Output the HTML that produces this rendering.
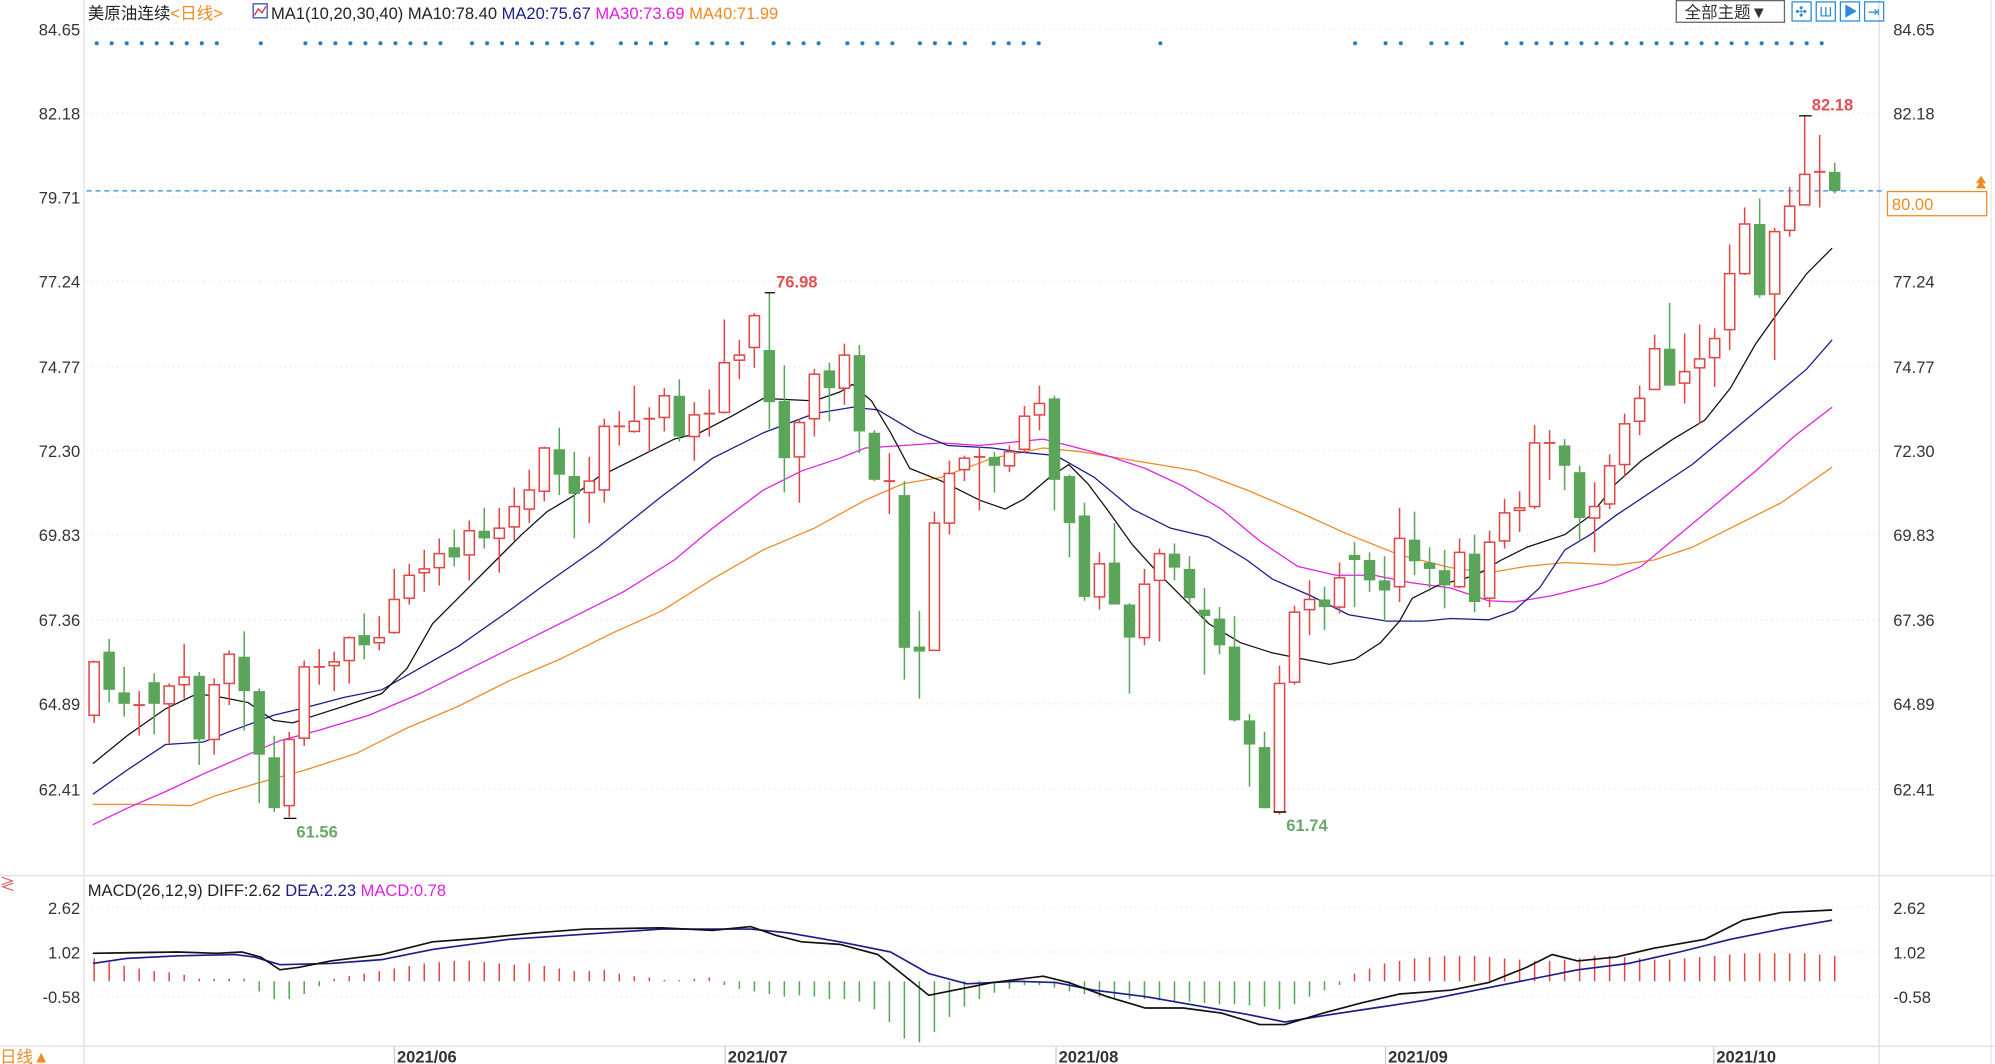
<!DOCTYPE html>
<html><head><meta charset="utf-8"><style>
html,body{margin:0;padding:0;background:#fff;overflow:hidden}
svg{display:block}
text{font-family:"Liberation Sans","Noto Sans CJK SC",sans-serif}
</style></head><body>
<svg id="s" width="1995" height="1064" viewBox="0 0 1568 836" preserveAspectRatio="none" xmlns="http://www.w3.org/2000/svg">
<rect width="1568" height="836" fill="#fff"/>
<g id="grid" stroke="#e4e4e4" stroke-dasharray="1,3" stroke-width="1"></g>
<line x1="66" y1="0" x2="66" y2="836" stroke="#e0e0e0"/>
<line x1="1477" y1="0" x2="1477" y2="836" stroke="#e0e0e0"/>
<line x1="1565" y1="0" x2="1565" y2="836" stroke="#e8e8e8"/>
<line x1="0" y1="688" x2="1568" y2="688" stroke="#e0e0e0"/>
<line x1="0" y1="822" x2="1568" y2="822" stroke="#e0e0e0"/>
<g id="dots" fill="#1f7fc4"></g>
<line x1="68" y1="150" x2="1480" y2="150" stroke="#2b8ad8" stroke-dasharray="4,3" stroke-width="1"/>
<g id="ma" fill="none" stroke-width="1"></g>
<g id="candles"></g>
<g id="macd"></g>
<g id="txt" font-size="13" fill="#333"></g>
<text x="69" y="15" font-size="13" fill="#222">美原油连续<tspan fill="#f08a24">&lt;日线&gt;</tspan></text>
<rect x="199" y="3" width="11" height="11" fill="none" stroke="#3050b0"/>
<polyline points="200,12 203,7 206,10 209,5" fill="none" stroke="#d03030"/>
<text x="213" y="15" font-size="13" fill="#222">MA1(10,20,30,40) MA10:78.40 <tspan fill="#1c1c8c">MA20:75.67</tspan> <tspan fill="#e020e0">MA30:73.69</tspan> <tspan fill="#f08a24">MA40:71.99</tspan></text>
<rect x="1317.5" y="0.5" width="85" height="17" fill="#fff" stroke="#666"/>
<text x="1324" y="14" font-size="13" fill="#333">全部主题▼</text>
<g fill="none" stroke="#2b8ad8">
<rect x="1408.5" y="1.5" width="15" height="15"/><rect x="1427.5" y="1.5" width="15" height="15"/><rect x="1446.5" y="1.5" width="15" height="15"/><rect x="1465.5" y="1.5" width="15" height="15"/>
</g>
<g fill="#2b8ad8" font-size="11"><text x="1411" y="13">✣</text><text x="1430" y="13">Ш</text><text x="1449" y="13">▶</text><text x="1468" y="13">⇥</text></g>
<rect x="1483.5" y="150.5" width="78" height="19" fill="#fff" stroke="#f08a24"/>
<text x="1487" y="165" font-size="13" fill="#f08a24">80.00</text>
<path d="M1553 148 L1557 142 L1561 148 Z M1553 144 L1557 138 L1561 144" fill="#f08a24"/>
<text x="1424" y="87" font-size="13" font-weight="bold" fill="#e05050">82.18</text>
<text x="610" y="226" font-size="13" font-weight="bold" fill="#e05050">76.98</text>
<text x="233" y="658" font-size="13" font-weight="bold" fill="#6aa86a">61.56</text>
<text x="1011" y="653" font-size="13" font-weight="bold" fill="#6aa86a">61.74</text>
<g stroke="#000"><line x1="1414" y1="91" x2="1424" y2="91"/><line x1="601" y1="230" x2="609" y2="230"/><line x1="223" y1="643" x2="233" y2="643"/><line x1="1001" y1="638" x2="1011" y2="638"/></g>
<text x="69" y="704" font-size="13" fill="#222">MACD(26,12,9) DIFF:2.62 <tspan fill="#1c1c8c">DEA:2.23</tspan> <tspan fill="#e020e0">MACD:0.78</tspan></text>
<text x="0" y="699" font-size="12" fill="#e05050">≷</text>
<text x="0" y="835" font-size="13" fill="#f08a24">日线▲</text>
</svg>
<script>
const NS="http://www.w3.org/2000/svg";
function el(p,t,a,txt){const e=document.createElementNS(NS,t);for(const k in a)e.setAttribute(k,a[k]);if(txt!==undefined)e.textContent=txt;document.getElementById(p).appendChild(e);return e;}
const lv=[["84.65",23],["82.18",89],["79.71",155],["77.24",221],["74.77",288],["72.30",354],["69.83",420],["67.36",487],["64.89",553],["62.41",620]];
lv.forEach(([t,y])=>{el("txt","text",{x:63,y:y+5,"text-anchor":"end"},t);el("txt","text",{x:1488,y:y+5},t);el("grid","line",{x1:68,y1:y,x2:1477,y2:y});});
[["2.62",713],["1.02",748],["-0.58",783]].forEach(([t,y])=>{el("txt","text",{x:63,y:y+5,"text-anchor":"end"},t);el("txt","text",{x:1488,y:y+5},t);el("grid","line",{x1:68,y1:y,x2:1477,y2:y});});
[["2021/06",338],["2021/07",598],["2021/08",858],["2021/09",1117],["2021/10",1375]].forEach(([t,x])=>{el("txt","text",{x:x-26,y:835,"font-weight":"bold"},t);el("grid","line",{x1:x-28,y1:822,x2:x-28,y2:836,stroke:"#ccc","stroke-dasharray":"none"});});
let dx=[];for(let i=0;i<9;i++)dx.push(76+i*11.8);dx.push(205);for(let i=0;i<10;i++)dx.push(240+i*11.8);for(let i=0;i<9;i++)dx.push(371+i*11.8);
[488,548,608,666,723,781].forEach(s=>{for(let i=0;i<4;i++)dx.push(s+i*11.8)});
dx.push(912,1065,1089,1101,1125,1137,1149);for(let i=0;i<22;i++)dx.push(1184+i*11.8);
dx.forEach(x=>el("dots","circle",{cx:x,cy:34,r:1.6}));
const C=[
[520,562,519,568,'R'],[512,542,502,552,'G'],[544,553,524,563,'G'],[554,555,543,578,'D'],[536,553,529,577,'G'],[539,553,537,584,'R'],[532,538,506,549,'R'],[531,581,528,601,'G'],[538,581,533,593,'R'],[514,537,511,554,'R'],
[516,543,496,574,'G'],[543,593,541,631,'G'],[595,635,578,638,'G'],[581,633,575,642,'R'],[524,580,519,586,'R'],[524,525,510,538,'D'],[520,523,512,543,'R'],[501,519,500,537,'R'],[499,507,482,518,'G'],[501,505,484,511,'R'],
[471,497,447,498,'R'],[452,470,443,475,'R'],[447,450,432,465,'R'],[435,446,423,460,'R'],[430,438,416,445,'G'],[417,436,409,456,'R'],[417,423,399,431,'G'],[415,423,399,450,'R'],[398,414,383,425,'R'],[385,400,369,411,'R'],
[352,386,351,394,'R'],[353,373,336,389,'G'],[374,388,355,423,'G'],[378,387,359,411,'R'],[335,385,329,395,'R'],[335,336,323,350,'D'],[331,339,303,340,'R'],[329,330,320,355,'D'],[311,328,305,339,'R'],[311,343,298,347,'G'],
[326,343,316,362,'R'],[325,326,306,343,'D'],[285,324,251,325,'R'],[279,283,267,298,'R'],[248,273,246,289,'R'],[275,316,230,337,'G'],[315,360,287,387,'G'],[332,359,329,395,'R'],[294,329,290,343,'R'],[291,305,285,331,'G'],
[279,305,270,318,'R'],[279,339,271,356,'G'],[340,377,338,378,'G'],[378,379,356,404,'D'],[389,509,378,534,'G'],[508,512,480,549,'G'],[411,511,402,511,'R'],[372,411,362,420,'R'],[360,369,358,378,'R'],[359,360,351,401,'D'],
[359,366,355,387,'G'],[355,366,350,371,'R'],[327,353,319,356,'R'],[317,326,303,338,'R'],[313,377,311,401,'G'],[374,411,373,438,'G'],[405,469,395,472,'G'],[443,469,434,479,'R'],[442,475,411,472,'G'],[475,501,474,545,'G'],
[459,501,447,507,'R'],[435,456,431,504,'R'],[435,446,427,456,'G'],[447,470,437,475,'G'],[479,484,462,530,'G'],[486,507,477,514,'G'],[508,566,484,567,'G'],[566,585,561,618,'G'],[587,635,575,635,'G'],[537,638,523,640,'R'],
[481,536,476,538,'R'],[471,479,456,499,'R'],[471,477,461,495,'G'],[454,477,442,482,'R'],[436,440,426,477,'G'],[440,456,434,465,'G'],[456,464,437,488,'G'],[423,461,399,473,'R'],[424,441,402,452,'G'],[442,447,430,462,'G'],
[448,460,432,478,'G'],[434,461,423,462,'R'],[435,473,420,481,'G'],[426,470,417,477,'R'],[403,425,392,431,'R'],[399,401,386,418,'R'],[348,398,334,400,'R'],[348,349,338,377,'D'],[350,366,345,385,'G'],[371,407,366,425,'G'],
[398,407,379,434,'R'],[366,396,357,400,'R'],[333,365,325,375,'R'],[313,331,303,342,'R'],[274,306,263,306,'R'],[274,303,238,303,'G'],[292,301,262,317,'R'],[282,289,255,333,'R'],[266,281,258,304,'R'],[215,259,192,275,'R'],
[176,215,163,216,'R'],[176,232,156,234,'G'],[182,231,179,283,'R'],[162,181,147,186,'R'],[137,161,91,161,'R'],[135,137,106,163,'D'],[135,150,128,152,'G']];
const N=C.length,step=(1442-74)/(N-1),W=9;
C.forEach((c,i)=>{const x=74+i*step;let [t,b,h,l,k]=c;const col=k==='G'?'#5aa55a':(k==='R'?'#e04848':'#5aa55a');
 let dcol=k==='D'?(i%2?'#e04848':'#5aa55a'):col;
 el("candles","line",{x1:x,y1:h,x2:x,y2:l,stroke:dcol,"stroke-width":1.2});
 if(k==='D'){el("candles","line",{x1:x-W/2,y1:t,x2:x+W/2,y2:t,stroke:dcol,"stroke-width":1.5});}
 else if(k==='G'){el("candles","rect",{x:x-W/2,y:t,width:W,height:Math.max(b-t,1.5),fill:col});}
 else{el("candles","rect",{x:x-W/2+0.5,y:t,width:W-1,height:Math.max(b-t,1.5),fill:"#fff",stroke:col,"stroke-width":1.2});}
});
function pl(g,pts,col,w){el(g,"polyline",{points:pts.map(p=>p.join(",")).join(" "),stroke:col,"stroke-width":w||1,fill:"none"});}
pl("ma",[[73,632],[110,632],[150,633],[170,625],[200,616],[240,605],[280,592],[320,572],[360,555],[400,535],[440,518],[480,498],[520,480],[560,455],[600,432],[640,415],[680,393],[710,380],[740,375],[780,360],[820,352],[850,355],[880,360],[910,365],[940,370],[980,385],[1020,402],[1060,420],[1100,436],[1140,446],[1170,450],[1200,445],[1230,442],[1270,444],[1300,440],[1330,430],[1360,415],[1400,395],[1440,367]],"#f08a24");
pl("ma",[[73,648],[100,635],[130,622],[160,608],[190,595],[220,582],[250,574],[290,562],[330,545],[370,525],[410,505],[450,485],[490,465],[530,440],[560,415],[600,385],[630,370],[660,360],[680,352],[710,350],[740,348],[770,350],[800,347],[820,345],[840,350],[870,358],[900,368],[930,382],[960,400],[990,425],[1020,445],[1050,452],[1080,452],[1110,458],[1140,462],[1170,472],[1190,473],[1220,468],[1260,458],[1290,445],[1320,420],[1350,395],[1380,370],[1410,343],[1440,320]],"#e020e0");
pl("ma",[[73,624],[100,605],[130,585],[160,583],[180,575],[215,562],[240,556],[270,548],[300,542],[330,525],[360,508],[400,480],[430,458],[470,430],[520,390],[560,360],[600,340],[640,325],[670,320],[690,322],[720,340],[745,350],[780,352],[800,355],[830,358],[860,375],[890,400],[920,415],[950,422],[980,440],[1000,455],[1030,468],[1060,483],[1090,488],[1120,488],[1140,486],[1170,487],[1190,480],[1210,462],[1230,432],[1250,420],[1270,405],[1300,385],[1330,365],[1360,340],[1390,315],[1420,290],[1440,267]],"#1c1c8c");
pl("ma",[[73,600],[100,578],[130,557],[155,545],[175,548],[195,552],[215,566],[230,568],[245,563],[270,555],[300,545],[320,525],[340,490],[360,470],[390,440],[410,420],[430,402],[450,390],[470,375],[500,360],[530,345],[550,340],[575,327],[600,313],[620,314],[640,315],[660,308],[670,302],[685,315],[700,340],[715,368],[740,378],[770,393],[790,400],[805,392],[825,375],[840,365],[855,380],[870,400],[890,428],[910,450],[930,470],[950,490],[975,505],[1000,513],[1020,517],[1045,522],[1065,518],[1085,505],[1100,488],[1110,470],[1130,460],[1160,452],[1180,440],[1200,430],[1230,420],[1250,405],[1270,380],[1290,362],[1315,345],[1340,330],[1360,305],[1380,270],[1400,242],[1420,215],[1440,195]],"#111");
const Z=771;
const H=[18,15,12,10,8,7,5,2,2,2,2,-8,-14,-14,-10,-4,2,4,6,8,10,12,14,15,16,16,15,14,13,14,12,10,8,8,9,6,4,3,1,1,2,3,-3,-6,-8,-10,-12,-11,-12,-14,-14,-16,-22,-32,-45,-48,-40,-28,-20,-14,-9,-6,-3,-3,-5,-8,-10,-12,-13,-14,-14,-15,-16,-16,-17,-18,-18,-19,-20,-22,-18,-12,-7,-3,6,10,14,16,18,19,20,20,20,19,18,17,16,16,17,18,20,20,19,18,17,17,18,19,20,21,22,22,22,22,22,21,20,18];
H.slice(0,N).forEach((v,i)=>{const x=74+i*step;el("macd","line",{x1:x,y1:Z,x2:x,y2:Z-v,stroke:v>=0?"#e04848":"#5aa55a","stroke-width":1.2});});
pl("macd",[[73,757],[100,753],[140,751],[185,750],[200,752],[220,758],[260,757],[300,754],[340,746],[400,738],[460,734],[520,730],[590,730],[620,733],[660,740],[700,748],[730,765],[760,773],[800,771],[830,772],[860,778],[900,783],[940,790],[980,797],[1010,803],[1040,798],[1080,792],[1120,786],[1160,778],[1200,770],[1240,762],[1280,757],[1320,748],[1360,738],[1400,730],[1440,723]],"#1c1c8c",1.3);
pl("macd",[[73,749],[140,748],[170,749],[190,748],[205,752],[220,762],[235,760],[260,755],[300,750],[340,740],[380,737],[420,733],[460,730],[520,729],[560,731],[590,728],[610,735],[630,740],[660,742],[690,750],[715,770],[730,782],[750,778],[780,772],[820,767],[840,772],[870,783],[900,792],[930,792],[960,796],[990,805],[1010,805],[1040,796],[1070,788],[1100,781],[1140,778],[1170,772],[1200,760],[1220,750],[1240,755],[1270,752],[1300,745],[1340,738],[1370,723],[1400,717],[1440,715]],"#111",1.3);
</script>
</body></html>
